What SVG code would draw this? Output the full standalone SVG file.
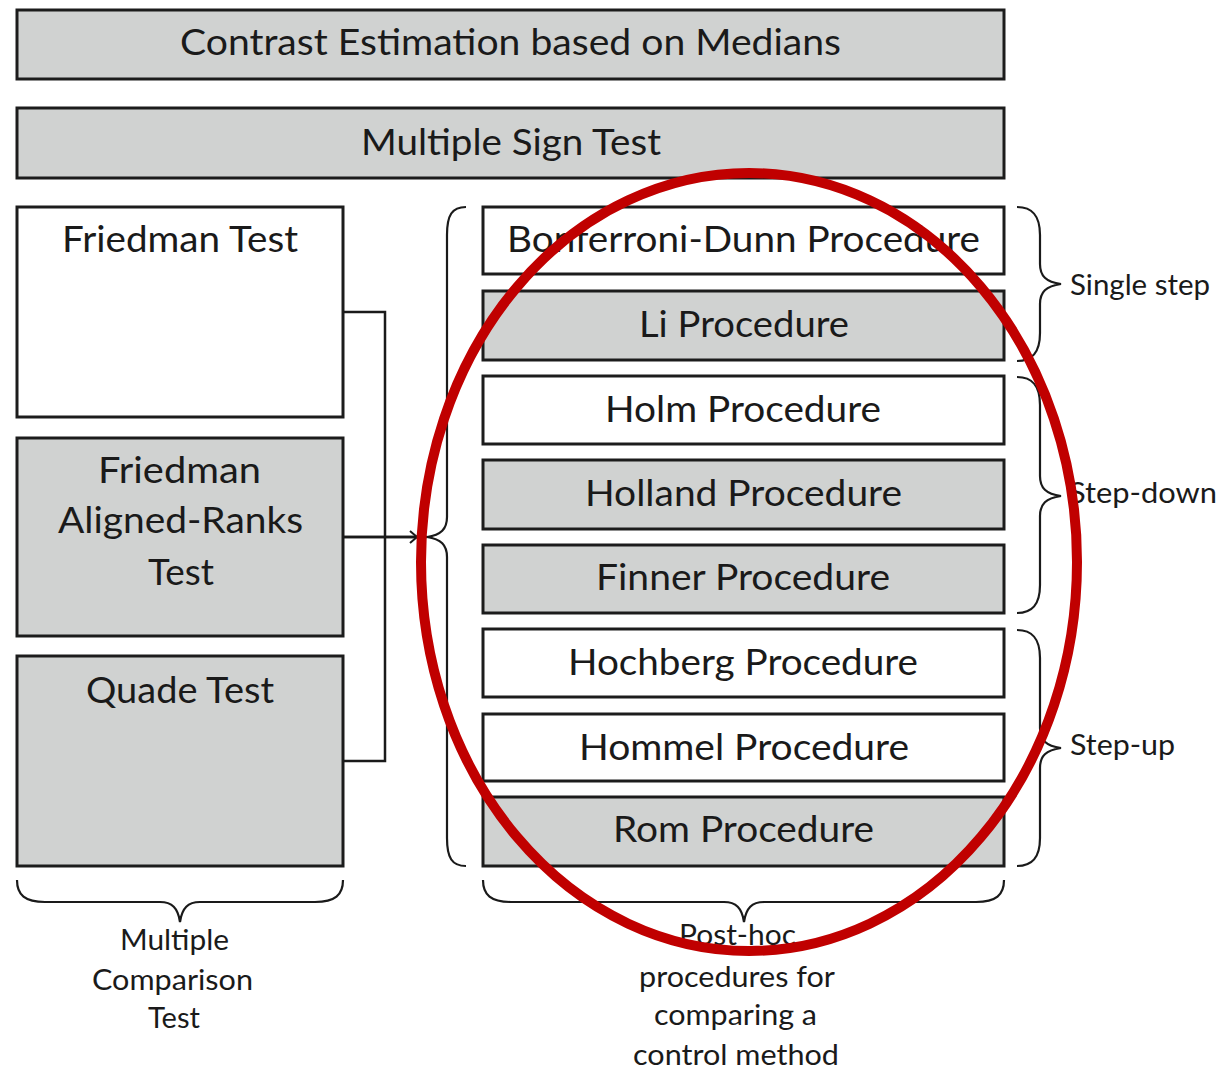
<svg xmlns="http://www.w3.org/2000/svg" width="1221" height="1070" viewBox="0 0 1221 1070">
  <defs>
    <style>
      .box { stroke: #1c1c1c; stroke-width: 3; }
      .gray { fill: #d0d2d1; }
      .white { fill: #ffffff; }
      .lbl { font-family: Lato, "Liberation Sans", sans-serif; font-size: 36px; fill: #1a1a1a; }
      .side { font-family: Lato, "Liberation Sans", sans-serif; font-size: 28px; fill: #1a1a1a; }
      .brace { fill: none; stroke: #1a1a1a; stroke-width: 2.2; }
      .wire { fill: none; stroke: #1a1a1a; stroke-width: 2.5; }
    </style>
    <marker id="arrow" markerWidth="10" markerHeight="14" refX="8" refY="7" orient="auto" markerUnits="userSpaceOnUse">
      <path d="M 1 1 L 8 7 L 1 13" fill="none" stroke="#1a1a1a" stroke-width="2"/>
    </marker>
  </defs>

  <rect width="1221" height="1070" fill="#ffffff"/>

  <!-- top-level methods -->
  <g id="contrast-estimation">
    <rect class="box gray" x="17" y="10" width="987" height="69"/>
    <text class="lbl" x="180" y="55" textLength="661" lengthAdjust="spacingAndGlyphs">Contrast Estimation based on Medians</text>
  </g>
  <g id="multiple-sign-test">
    <rect class="box gray" x="17" y="108" width="987" height="70"/>
    <text class="lbl" x="361" y="155" textLength="300" lengthAdjust="spacingAndGlyphs">Multiple Sign Test</text>
  </g>

  <!-- multiple comparison tests -->
  <g id="friedman-test">
    <rect class="box white" x="17" y="207" width="326" height="210"/>
    <text class="lbl" x="62" y="252" textLength="236" lengthAdjust="spacingAndGlyphs">Friedman Test</text>
  </g>
  <g id="friedman-aligned-ranks">
    <rect class="box gray" x="17" y="438" width="326" height="198"/>
    <text class="lbl" x="98" y="483" textLength="163" lengthAdjust="spacingAndGlyphs">Friedman</text>
    <text class="lbl" x="58" y="533" textLength="245" lengthAdjust="spacingAndGlyphs">Aligned-Ranks</text>
    <text class="lbl" x="148" y="585" textLength="66" lengthAdjust="spacingAndGlyphs">Test</text>
  </g>
  <g id="quade-test">
    <rect class="box gray" x="17" y="656" width="326" height="210"/>
    <text class="lbl" x="86" y="703" textLength="188" lengthAdjust="spacingAndGlyphs">Quade Test</text>
  </g>

  <!-- post-hoc procedures -->
  <g id="bonferroni-dunn">
    <rect class="box white" x="483" y="207" width="521" height="67"/>
    <text class="lbl" x="507" y="252" textLength="473" lengthAdjust="spacingAndGlyphs">Bonferroni-Dunn Procedure</text>
  </g>
  <g id="li">
    <rect class="box gray" x="483" y="291" width="521" height="69"/>
    <text class="lbl" x="639" y="337" textLength="210" lengthAdjust="spacingAndGlyphs">Li Procedure</text>
  </g>
  <g id="holm">
    <rect class="box white" x="483" y="376" width="521" height="68"/>
    <text class="lbl" x="605" y="422" textLength="276" lengthAdjust="spacingAndGlyphs">Holm Procedure</text>
  </g>
  <g id="holland">
    <rect class="box gray" x="483" y="460" width="521" height="69"/>
    <text class="lbl" x="585" y="506" textLength="317" lengthAdjust="spacingAndGlyphs">Holland Procedure</text>
  </g>
  <g id="finner">
    <rect class="box gray" x="483" y="545" width="521" height="68"/>
    <text class="lbl" x="596" y="590" textLength="294" lengthAdjust="spacingAndGlyphs">Finner Procedure</text>
  </g>
  <g id="hochberg">
    <rect class="box white" x="483" y="629" width="521" height="68"/>
    <text class="lbl" x="568" y="675" textLength="350" lengthAdjust="spacingAndGlyphs">Hochberg Procedure</text>
  </g>
  <g id="hommel">
    <rect class="box white" x="483" y="714" width="521" height="67"/>
    <text class="lbl" x="579" y="760" textLength="330" lengthAdjust="spacingAndGlyphs">Hommel Procedure</text>
  </g>
  <g id="rom">
    <rect class="box gray" x="483" y="797" width="521" height="69"/>
    <text class="lbl" x="613" y="842" textLength="261" lengthAdjust="spacingAndGlyphs">Rom Procedure</text>
  </g>

  <!-- connectors from the tests into the procedure group -->
  <g id="connectors">
    <path class="wire" d="M 343 312 L 385 312 L 385 761 L 343 761"/>
    <path class="wire" d="M 343 537 L 427 537"/>
    <path class="wire" d="M 343 537 L 417 537" marker-end="url(#arrow)"/>
  </g>

  <!-- grouping braces -->
  <g id="braces">
    <path class="brace" d="M 466 207 C 452 207, 447 215, 447 235 L 447 517 C 447 529, 441 535, 427 537 C 441 539, 447 545, 447 557 L 447 838 C 447 858, 452 866, 466 866"/>
    <path class="brace" d="M 1017 207 C 1032 207, 1040 215, 1040 235 L 1040 264 C 1040 276, 1046 282, 1061 284 C 1046 286, 1040 292, 1040 304 L 1040 333 C 1040 353, 1032 361, 1017 361"/>
    <path class="brace" d="M 1017 377 C 1032 377, 1040 385, 1040 405 L 1040 476 C 1040 488, 1046 494, 1061 496 C 1046 498, 1040 504, 1040 516 L 1040 585 C 1040 605, 1032 613, 1017 613"/>
    <path class="brace" d="M 1017 630 C 1032 630, 1040 638, 1040 658 L 1040 728 C 1040 740, 1046 746, 1061 748 C 1046 750, 1040 756, 1040 768 L 1040 838 C 1040 858, 1032 866, 1017 866"/>
    <path class="brace" d="M 17 880 C 17 895, 25 902, 45 902 L 160 902 C 172 902, 178 908, 180 922 C 182 908, 188 902, 200 902 L 315 902 C 335 902, 343 895, 343 880"/>
    <path class="brace" d="M 483 880 C 483 895, 491 902, 511 902 L 724 902 C 736 902, 742 908, 744 922 C 746 908, 752 902, 764 902 L 976 902 C 996 902, 1004 895, 1004 880"/>
  </g>

  <!-- brace labels -->
  <g id="labels">
    <text class="side" x="1070" y="295" textLength="140" lengthAdjust="spacingAndGlyphs">Single step</text>
    <text class="side" x="1069" y="503" textLength="148" lengthAdjust="spacingAndGlyphs">Step-down</text>
    <text class="side" x="1070" y="755" textLength="105" lengthAdjust="spacingAndGlyphs">Step-up</text>
    <text class="side" x="120" y="950" textLength="109" lengthAdjust="spacingAndGlyphs">Multiple</text>
    <text class="side" x="92" y="990" textLength="161" lengthAdjust="spacingAndGlyphs">Comparison</text>
    <text class="side" x="148" y="1028" textLength="52" lengthAdjust="spacingAndGlyphs">Test</text>
    <text class="side" x="679" y="945" textLength="117" lengthAdjust="spacingAndGlyphs">Post-hoc</text>
    <text class="side" x="639" y="987" textLength="196" lengthAdjust="spacingAndGlyphs">procedures for</text>
    <text class="side" x="654" y="1025" textLength="163" lengthAdjust="spacingAndGlyphs">comparing a</text>
    <text class="side" x="633" y="1065" textLength="206" lengthAdjust="spacingAndGlyphs">control method</text>
  </g>

  <!-- highlight ring over the procedures -->
  <ellipse id="highlight" cx="749" cy="562" rx="328" ry="389" fill="none" stroke="#c00000" stroke-width="10"/>
</svg>
